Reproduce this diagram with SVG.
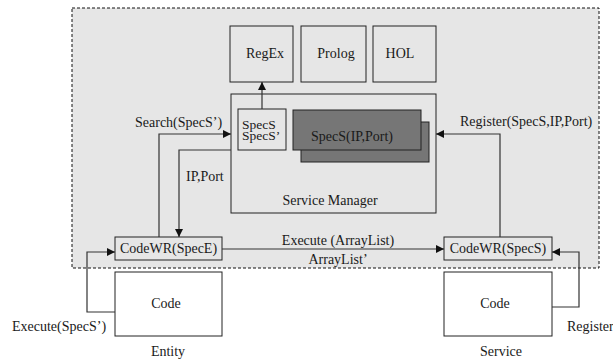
<svg xmlns="http://www.w3.org/2000/svg" width="613" height="363" viewBox="0 0 613 363">
  <style>
    text { font-family: 'Liberation Serif', 'Times New Roman', serif; font-size: 14px; fill: #1a1a1a; }
    .c { text-anchor: middle; }
    .small { font-size: 13.5px; }
    .box { fill: #e6e6e6; stroke: #222; stroke-width: 1; }
    .white { fill: #ffffff; stroke: #222; stroke-width: 1; }
    .dark { fill: #767676; stroke: #222; stroke-width: 1; }
    .wire { fill: none; stroke: #333; stroke-width: 1.2; }
  </style>
  <defs>
    <marker id="arrow" viewBox="0 0 10 10" refX="10" refY="5" markerWidth="8" markerHeight="8" markerUnits="userSpaceOnUse" orient="auto">
      <path d="M0,0 L10,5 L0,10 z" fill="#111"/>
    </marker>
  </defs>

  <!-- shared runtime area -->
  <rect id="runtime" x="72" y="8" width="527" height="260" fill="#e6e6e6" stroke="#111" stroke-width="1" stroke-dasharray="3,2"/>

  <g id="regex">
    <rect class="box" x="230" y="26" width="63" height="56"/>
    <text class="c" x="265" y="58">RegEx</text>
  </g>
  <g id="prolog">
    <rect class="box" x="301" y="26" width="65" height="56"/>
    <text class="c" x="336" y="58">Prolog</text>
  </g>
  <g id="hol">
    <rect class="box" x="373" y="26" width="63" height="56"/>
    <text class="c" x="400" y="58">HOL</text>
  </g>

  <g id="service-manager">
    <rect class="box" x="231" y="94" width="205" height="119"/>
    <text class="c" x="330" y="205">Service Manager</text>
  </g>
  <g id="specs-index">
    <rect class="box" x="238" y="109" width="48" height="41"/>
    <text class="small" x="242" y="129">SpecS</text>
    <text class="small" x="242" y="140">SpecS’</text>
  </g>
  <g id="specs-table">
    <rect class="dark" x="301" y="122" width="128" height="40"/>
    <rect class="dark" x="293" y="110" width="128" height="40"/>
    <text class="c" x="352" y="141">SpecS(IP,Port)</text>
  </g>

  <g id="codewr-entity">
    <rect class="box" x="115" y="237" width="107" height="23"/>
    <text class="c" x="168.5" y="253">CodeWR(SpecE)</text>
  </g>
  <g id="codewr-service">
    <rect class="box" x="444" y="237" width="108" height="23"/>
    <text class="c" x="498" y="253">CodeWR(SpecS)</text>
  </g>

  <g id="entity-code">
    <rect class="white" x="115" y="272" width="107" height="64"/>
    <text class="c" x="166" y="308">Code</text>
    <text class="c" x="168" y="356">Entity</text>
  </g>
  <g id="service-code">
    <rect class="white" x="444" y="272" width="108" height="64"/>
    <text class="c" x="495" y="308">Code</text>
    <text class="c" x="501" y="356">Service</text>
  </g>

  <g id="connectors">
    <path class="wire" d="M262,109 L262,82" marker-end="url(#arrow)"/>
    <path class="wire" d="M159,237 L159,134 L231,134" marker-end="url(#arrow)"/>
    <path class="wire" d="M231,150 L179,150 L179,237" marker-end="url(#arrow)"/>
    <path class="wire" d="M500,237 L500,134 L436,134" marker-end="url(#arrow)"/>
    <path class="wire" d="M222,249 L444,249" marker-end="url(#arrow)"/>
    <path class="wire" d="M115,312 L87,312 L87,252 L115,252" marker-end="url(#arrow)"/>
    <path class="wire" d="M552,307 L579,307 L579,252 L552,252" marker-end="url(#arrow)"/>

    <text x="135" y="127">Search(SpecS’)</text>
    <text x="186" y="181">IP,Port</text>
    <text x="460" y="126">Register(SpecS,IP,Port)</text>
    <text class="c" x="338" y="245">Execute (ArrayList)</text>
    <text class="c" x="338" y="264">ArrayList’</text>
    <text x="12" y="331">Execute(SpecS’)</text>
    <text x="567" y="331">Register</text>
  </g>
</svg>
